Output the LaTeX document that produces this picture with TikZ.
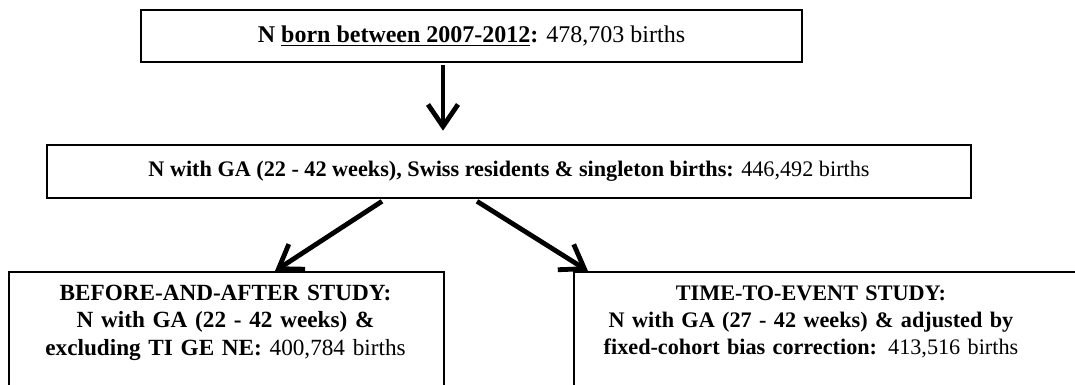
\documentclass[tikz,border=0pt]{standalone}
\usepackage{fontspec}
\setmainfont{Liberation Serif}
\usetikzlibrary{arrows.meta, positioning, calc}

\begin{document}
\begin{tikzpicture}[x=0.5pt, y=-0.5pt,
        flowbox/.style={draw, rectangle, line width=1.3pt, inner sep=0pt, font=\fontsize{11.1}{14.5}\selectfont},
        studybox/.style={draw, rectangle, line width=0.8pt, anchor=north west, minimum height=80pt},
        studytext/.style={anchor=north, align=center, inner sep=0pt, text width=230pt, font=\fontsize{11.1}{13.6}\selectfont},
        flowarrow/.style={line width=2.4pt, -{Straight Barb[length=11pt, width=15pt]}}]
        \clip (0,0) rectangle (1075,385);
        % Cohort boxes
        \node (born) [flowbox, font=\fontsize{12}{14.5}\selectfont, minimum width=330.5pt, minimum height=26pt] at (471.5,36) {\textbf{N \underline{born between 2007-2012}:} 478,703 births};
        \node (eligible) [flowbox, minimum width=462pt, minimum height=26.5pt] at (509,171.5) {\textbf{N with GA (22 - 42 weeks), Swiss residents \& singleton births:} 446,492 births};
        % Study boxes, open at the bottom
        \node (beforeafter) [studybox, minimum width=217.5pt] at (8,271) {};
        \node (timetoevent) [studybox, minimum width=280pt] at (573,271) {};
        \node (beforeaftertext) [studytext, font=\fontsize{11.6}{13.6}\selectfont] at (225.5,285) {\textbf{BEFORE-AND-AFTER STUDY:}\\ \textbf{N with GA (22 - 42 weeks) \&}\\ \textbf{excluding TI GE NE:} 400,784 births};
        \node (timetoeventtext) [studytext] at (811,285) {\textbf{TIME-TO-EVENT STUDY:}\\ \textbf{N with GA (27 - 42 weeks) \& adjusted by}\\ \textbf{fixed-cohort bias correction:} 413,516 births};
        % Arrows
        \draw[flowarrow] ($(born.south)+(-28.5,2)$) -- ($(eligible.north)+(-66,-13)$);
        \draw[flowarrow] ($(eligible.south)+(-127,2)$) -- ($(beforeafter.north west)+(267,0)$);
        \draw[flowarrow] ($(eligible.south)+(-32,2)$) -- ($(timetoevent.north west)+(15,0)$);
    \end{tikzpicture}
\end{document}
